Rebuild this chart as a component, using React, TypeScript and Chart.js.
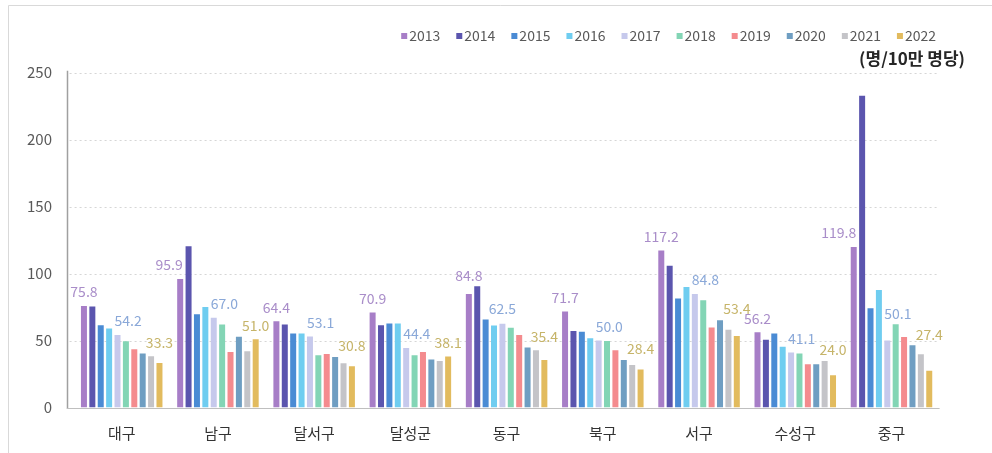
import { useEffect, useRef } from 'react';
import { Chart, registerables } from 'chart.js';

Chart.register(...registerables);

const categories = ['대구', '남구', '달서구', '달성군', '동구', '북구', '서구', '수성구', '중구'];
const years = ['2013', '2014', '2015', '2016', '2017', '2018', '2019', '2020', '2021', '2022'];

const v2013 = [75.8, 95.9, 64.4, 70.9, 84.8, 71.7, 117.2, 56.2, 119.8];
const v2014 = [75.5, 120.5, 62.0, 61.5, 90.5, 57.2, 105.8, 50.5, 232.7];
const v2015 = [61.5, 69.6, 55.3, 62.7, 65.8, 56.5, 81.4, 55.3, 74.2];
const v2016 = [59.0, 75.0, 55.3, 62.7, 61.3, 51.8, 90.0, 45.3, 87.8];
const v2017 = [54.2, 67.0, 53.1, 44.4, 62.5, 50.0, 84.8, 41.1, 50.1];
const v2018 = [49.5, 62.0, 39.0, 39.0, 59.6, 49.6, 80.0, 40.3, 62.2];
const v2019 = [43.5, 41.5, 40.0, 41.5, 54.2, 42.8, 59.7, 32.3, 52.7];
const v2020 = [40.3, 52.8, 37.8, 35.8, 44.8, 35.5, 65.2, 32.3, 46.5];
const v2021 = [38.2, 42.0, 33.0, 34.8, 42.8, 31.8, 58.0, 34.8, 39.8];
const v2022 = [33.3, 51.0, 30.8, 38.1, 35.4, 28.4, 53.4, 24.0, 27.4];

const seriesValues = [v2013, v2014, v2015, v2016, v2017, v2018, v2019, v2020, v2021, v2022];
const barColors = ['#a77ec7', '#5b55ae', '#4a8bd4', '#6fcdf0', '#c6c9ec', '#83d5b5', '#f48b8e', '#6f9ec2', '#c4c4c8', '#e2bb5e'];

const yTicks = [0, 50, 100, 150, 200, 250];
const labelledSeries = [0, 4, 9];
const labelColors: Record<number, string> = { 0: '#a98dc9', 4: '#8aa8d8', 9: '#c6b469' };
const unitLabel = '(명/10만 명당)';

const FONT = "'Noto Sans CJK KR', 'Noto Sans', sans-serif";

const decor = {
  id: 'decor',
  beforeDraw(chart: any) {
    const ctx = chart.ctx;
    ctx.save();
    ctx.fillStyle = '#ffffff';
    ctx.fillRect(0, 0, chart.width, chart.height);
    ctx.strokeStyle = '#d9d9d9';
    ctx.lineWidth = 1;
    ctx.beginPath();
    ctx.moveTo(8.5, chart.height);
    ctx.lineTo(8.5, 5.5);
    ctx.lineTo(chart.width, 5.5);
    ctx.stroke();
    ctx.restore();
  },
  beforeDatasetsDraw(chart: any) {
    const { ctx, chartArea: a, scales } = chart;
    const y = scales.y;
    const x0 = a.left - 7;
    ctx.save();
    ctx.lineWidth = 1;
    ctx.strokeStyle = '#d6d6d6';
    ctx.setLineDash([2, 3]);
    for (const t of yTicks) {
      if (t === 0) continue;
      const py = Math.round(y.getPixelForValue(t)) + 0.5;
      ctx.beginPath();
      ctx.moveTo(x0 + 3, py);
      ctx.lineTo(a.right, py);
      ctx.stroke();
    }
    ctx.setLineDash([]);
    const by = Math.round(a.bottom) + 0.5;
    ctx.strokeStyle = '#bfbfbf';
    ctx.beginPath();
    ctx.moveTo(x0, by);
    ctx.lineTo(a.right, by);
    ctx.stroke();
    ctx.strokeStyle = '#a0a0a0';
    ctx.lineWidth = 1.5;
    ctx.beginPath();
    ctx.moveTo(Math.round(x0) + 0.5, a.top - 2);
    ctx.lineTo(Math.round(x0) + 0.5, a.bottom + 0.5);
    ctx.stroke();
    ctx.restore();
  },
  afterDatasetsDraw(chart: any) {
    const ctx = chart.ctx;
    ctx.save();
    ctx.font = `14px ${FONT}`;
    ctx.textBaseline = 'middle';
    const metas = seriesValues.map((_, di) => chart.getDatasetMeta(di));
    for (const di of labelledSeries) {
      const vals = seriesValues[di];
      metas[di].data.forEach((bar: any, i: number) => {
        const txt = vals[i].toFixed(1);
        const w = ctx.measureText(txt).width;
        let x1: number;
        if (di === 0 && v2014[i] > vals[i] + 10) {
          x1 = bar.x + bar.width / 2 - 0.5 - w;
        } else if (di === 4 && v2016[i] > vals[i]) {
          x1 = bar.x - bar.width / 2;
        } else {
          x1 = bar.x - w / 2;
        }
        const x2 = x1 + w;
        let ly = bar.y - 14;
        metas.forEach((m: any, dj: number) => {
          if (dj === di) return;
          const b = m.data[i];
          const bl = b.x - b.width / 2 - 2;
          const br = b.x + b.width / 2 + 2;
          if (br > x1 && bl < x2) {
            ly = Math.min(ly, b.y - 11);
          }
        });
        ctx.fillStyle = labelColors[di];
        ctx.textAlign = 'left';
        ctx.fillText(txt, x1, ly);
      });
    }
    ctx.restore();
  },
  afterDraw(chart: any) {
    const ctx = chart.ctx;
    ctx.save();
    ctx.font = `14px ${FONT}`;
    ctx.textBaseline = 'middle';
    ctx.textAlign = 'left';
    const box = 6;
    const gapText = 2;
    const gapItem = 16;
    const widths = years.map((t) => box + gapText + ctx.measureText(t).width);
    const total = widths.reduce((s, w) => s + w, 0) + gapItem * (years.length - 1);
    let x = 936 - total;
    const ly = 36;
    years.forEach((t, i) => {
      ctx.fillStyle = barColors[i];
      ctx.fillRect(x, ly - 3, box, box);
      ctx.fillStyle = '#595959';
      ctx.fillText(t, x + box + gapText, ly);
      x += widths[i] + gapItem;
    });
    ctx.font = `bold 17px ${FONT}`;
    ctx.fillStyle = '#262626';
    ctx.textAlign = 'right';
    ctx.fillText(unitLabel, 965, 59);
    ctx.restore();
  },
};

export default function App() {
  const ref = useRef<HTMLCanvasElement | null>(null);

  useEffect(() => {
    if (!ref.current) return;
    const chart = new Chart(ref.current, {
      type: 'bar',
      data: {
        labels: categories,
        datasets: years.map((yr, i) => ({
          label: yr,
          data: seriesValues[i],
          backgroundColor: barColors[i],
          borderWidth: 0,
          barPercentage: 0.715,
          categoryPercentage: 0.872,
        })),
      },
      options: {
        responsive: false,
        animation: false,
        devicePixelRatio: 1,
        layout: { padding: { left: 8, right: 52.4, top: 72.7, bottom: 0 } },
        plugins: {
          legend: { display: false },
          tooltip: { enabled: false },
          title: { display: false },
        },
        scales: {
          x: {
            type: 'category',
            grid: { display: false, drawTicks: false },
            border: { display: false },
            ticks: {
              autoSkip: false,
              maxRotation: 0,
              padding: 17,
              color: '#333333',
              font: { family: FONT, size: 15 },
            },
            afterFit: (scale: any) => {
              scale.height = 45.5;
            },
          },
          y: {
            min: 0,
            max: 250,
            grid: { display: false, drawTicks: false },
            border: { display: false },
            ticks: {
              stepSize: 50,
              padding: 21.6,
              color: '#595959',
              font: { family: FONT, size: 15 },
            },
            afterFit: (scale: any) => {
              scale.width = 65.6;
            },
          },
        },
      },
      plugins: [decor],
    } as any);
    return () => chart.destroy();
  }, []);

  return (
    <div style={{ position: 'absolute', left: 0, top: 0, width: 992, height: 453, background: '#fff' }}>
      <canvas ref={ref} width={992} height={453} style={{ width: 992, height: 453, display: 'block' }} />
    </div>
  );
}
